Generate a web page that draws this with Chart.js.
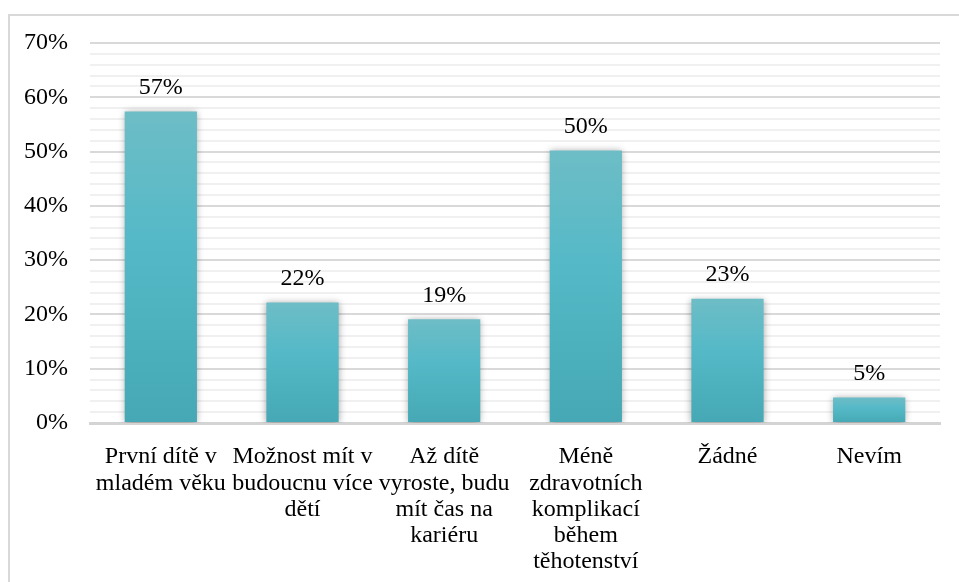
<!DOCTYPE html>
<html>
<head>
<meta charset="utf-8">
<script src="https://cdn.jsdelivr.net/npm/chart.js@4"></script>
<style>
  html, body { margin: 0; padding: 0; background: #fff; overflow: hidden; }
  #frame { position: absolute; left: 8px; top: 14px; width: 1000px; height: 700px; border: 2px solid #d9d9d9; box-sizing: border-box; }
  #wrap { position: absolute; left: 0; top: 0; width: 959px; height: 582px; }
  #nahrat { position: absolute; left: 0; top: 700px; font-family: 'Liberation Serif'; font-size: 24px; color: #fff; }
</style>
</head>
<body>
<div id="nahrat">Liberation Serif První 70%</div>
<div id="frame"></div>
<div id="wrap"><canvas id="myChart" width="959" height="582"></canvas></div>
<script>
const kategorie = [
    ['První dítě v', 'mladém věku'],
    ['Možnost mít v', 'budoucnu více', 'dětí'],
    ['Až dítě', 'vyroste, budu', 'mít čas na', 'kariéru'],
    ['Méně', 'zdravotních', 'komplikací', 'během', 'těhotenství'],
    ['Žádné'],
    ['Nevím']
];
const hodnoty = [57.4, 22.2, 19.1, 50.2, 22.9, 4.7];
const popisky = ['57%', '22%', '19%', '50%', '23%', '5%'];

const pismo = "'Liberation Serif'";

// stin pod sloupci
const stin = {
    id: 'stin',
    beforeDatasetsDraw(chart) {
        const c = chart.ctx;
        c.save();
        c.shadowColor = 'rgba(0,0,0,0.35)';
        c.shadowBlur = 7;
        c.shadowOffsetX = 0;
        c.shadowOffsetY = 1;
    },
    afterDatasetsDraw(chart) {
        chart.ctx.restore();
    }
};

// popisky hodnot nad sloupci
const hodnotyNad = {
    id: 'hodnotyNad',
    afterDatasetsDraw(chart) {
        const c = chart.ctx;
        const meta = chart.getDatasetMeta(0);
        c.save();
        c.font = '24px ' + pismo;
        c.fillStyle = '#000';
        c.textAlign = 'center';
        c.textBaseline = 'middle';
        meta.data.forEach((bar, i) => {
            c.fillText(popisky[i], bar.x, bar.y - 24);
        });
        c.restore();
    }
};

function gradient(context) {
    const chart = context.chart;
    const y = chart.scales && chart.scales.y;
    if (!y || context.raw === undefined) return '#56b9c6';
    const top = y.getPixelForValue(context.raw);
    const base = y.getPixelForValue(0);
    if (!isFinite(top) || !isFinite(base) || top === base) return '#56b9c6';
    const g = chart.ctx.createLinearGradient(0, top, 0, base);
    g.addColorStop(0, '#6dbdc6');
    g.addColorStop(0.4, '#56b9c7');
    g.addColorStop(1, '#45a8b4');
    return g;
}

const ctx = document.getElementById('myChart').getContext('2d');
const myChart = new Chart(ctx, {
    type: 'bar',
    data: {
        labels: kategorie,
        datasets: [{
            data: hodnoty,
            backgroundColor: gradient,
            borderWidth: 0,
            barPercentage: 0.51,
            categoryPercentage: 1.0
        }]
    },
    options: {
        responsive: false,
        animation: false,
        layout: { padding: { top: 43, right: 19, left: 0, bottom: 0 } },
        plugins: {
            legend: { display: false },
            tooltip: { enabled: false }
        },
        scales: {
            x: {
                grid: { display: false },
                border: { display: true, color: '#d4d4d4', width: 3 },
                ticks: {
                    color: '#000',
                    font: { family: pismo, size: 24, lineHeight: 1.09 },
                    maxRotation: 0,
                    autoSkip: false,
                    padding: 13
                },
                afterFit(scale) { scale.height = 159; }
            },
            y: {
                min: 0,
                max: 70,
                grid: {
                    color: (c) => (c.tick && c.tick.value % 10 === 0) ? '#d9d9d9' : '#f0f0f0',
                    lineWidth: 2,
                    drawTicks: false
                },
                border: { display: false },
                ticks: {
                    stepSize: 2,
                    autoSkip: false,
                    color: '#000',
                    font: { family: pismo, size: 24 },
                    padding: 22,
                    callback: (v) => (v % 10 === 0) ? v + '%' : ''
                },
                afterFit(scale) { scale.width = 90; }
            }
        }
    },
    plugins: [stin, hodnotyNad]
});

myChart.update();
document.fonts.load("24px 'Liberation Serif'").then(() => myChart.update());
document.fonts.ready.then(() => myChart.update());
</script>
</body>
</html>
